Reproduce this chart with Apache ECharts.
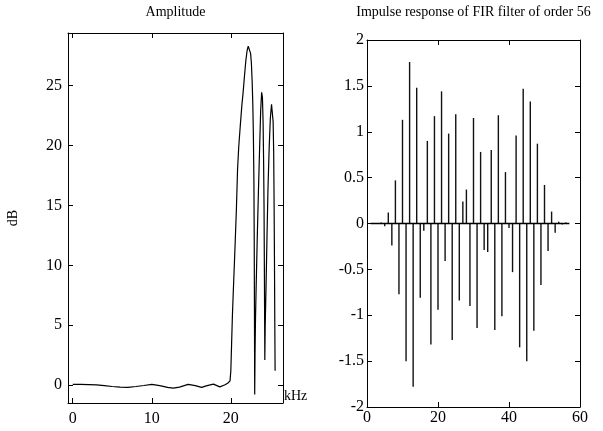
<!DOCTYPE html>
<html>
<head>
<meta charset="utf-8">
<script src="https://cdn.jsdelivr.net/npm/echarts@6/dist/echarts.min.js"></script>
<style>
html,body{margin:0;padding:0;background:#fff;}
#chart{width:603px;height:431px;}
</style>
</head>
<body>
<div id="chart"></div>
<script>
// Left panel: amplitude response (kHz, dB)
const ampFreq = [0, 1, 2, 3, 4, 5, 6, 7, 8, 9, 10, 11, 12, 12.7, 13.5, 14.6, 15.5, 16.3, 17, 17.8, 18.6, 19.2, 19.6, 19.9,
  20.0, 20.1, 20.2, 20.3, 20.4, 20.5, 20.6, 20.7, 20.85, 21.0, 21.2, 21.4, 21.55, 21.7, 21.9, 22.05, 22.2, 22.3, 22.4, 22.5, 22.6, 22.7, 22.78, 22.85, 22.92, 22.96, 22.99, 23.01, 23.02,
  23.06, 23.12, 23.2, 23.35, 23.5, 23.65, 23.78, 23.9, 24.0, 24.08, 24.15, 24.2, 24.25, 24.3,
  24.35, 24.45, 24.58, 24.7, 24.85, 25.0, 25.15, 25.25, 25.35, 25.42, 25.47, 25.52, 25.56, 25.6];
const ampDb = [0.05, 0.05, 0.04, 0.02, -0.05, -0.12, -0.17, -0.19, -0.12, -0.04, 0.05, -0.05, -0.2, -0.26, -0.18, 0.06, -0.05, -0.2, -0.05, 0.08, -0.15, 0.0, 0.15, 0.35,
  1.2, 3.5, 5.8, 7.6, 9.3, 11.0, 12.8, 14.6, 18.0, 19.9, 21.7, 23.4, 24.4, 25.6, 27.1, 27.9, 28.3, 28.4, 28.2, 27.7, 26.9, 25.3, 23.5, 21.0, 17.0, 12.0, 6.0, 1.0, -0.8,
  2.5, 5.5, 8.1, 12.5, 16.4, 20.0, 23.0, 24.45, 24.0, 22.0, 18.5, 15.0, 9.0, 2.1,
  5.0, 8.1, 12.5, 16.4, 19.8, 22.3, 23.45, 23.3, 22.0, 19.5, 15.5, 10.5, 5.5, 1.2];
const ampXTicks = [0, 10, 20];
const ampYTicks = [0, 5, 10, 15, 20, 25];

// Right panel: impulse response of FIR filter of order 56 (57 taps)
const impIndex = [1, 2, 3, 4, 5, 6, 7, 8, 9, 10, 11, 12, 13, 14, 15, 16, 17, 18, 19, 20,
  21, 22, 23, 24, 25, 26, 27, 28, 29, 30, 31, 32, 33, 34, 35, 36, 37, 38, 39, 40,
  41, 42, 43, 44, 45, 46, 47, 48, 49, 50, 51, 52, 53, 54, 55, 56, 57];
const impValue = [0, 0.005, -0.005, 0.01, -0.03, 0.12, -0.24, 0.47, -0.77, 1.13, -1.50, 1.76, -1.78, 1.48, -0.81, -0.08, 0.90, -1.32, 1.17, -0.94,
  1.44, -0.41, 0.98, -1.27, 1.19, -0.84, 0.24, 0.37, -0.90, 1.15, -1.14, 0.78, -0.29, -0.31, 0.80, -1.16, 1.18, -1.01, 0.56, -0.05,
  -0.53, 0.96, -1.35, 1.47, -1.50, 1.33, -1.17, 0.87, -0.67, 0.42, -0.30, 0.13, -0.10, 0.02, -0.01, 0.01, 0];
const impXTicks = [0, 20, 40, 60];
const impYTicks = [-2, -1.5, -1, -0.5, 0, 0.5, 1, 1.5, 2];

const FONT = 'Liberation Serif';
const INK = '#000';
const TICK_FS = 16;

function axisBase(extra) {
  return Object.assign({
    type: 'value',
    splitLine: { show: false },
    axisLine: { show: true, onZero: false, lineStyle: { color: INK, width: 1 } },
    axisTick: { show: true, inside: true, length: 5, lineStyle: { color: INK } },
    axisLabel: { show: false }
  }, extra);
}
function ticks(vals) {
  return { show: true, inside: true, length: 5, lineStyle: { color: INK }, customValues: vals };
}

const chart = echarts.init(document.getElementById('chart'), null, { renderer: 'canvas' });
chart.setOption({
  animation: false,
  backgroundColor: '#fff',
  grid: [
    { left: 68, top: 30, width: 215, height: 373 },
    { left: 367, top: 33, width: 213, height: 374 }
  ],
  xAxis: [
    axisBase({ gridIndex: 0, position: 'bottom', min: -0.6, max: 26.6,
      axisTick: ticks(ampXTicks),
      axisLabel: { show: true, customValues: ampXTicks, margin: 8, color: INK, fontFamily: FONT, fontSize: TICK_FS },
      name: 'kHz', nameLocation: 'end', nameGap: 1,
      nameTextStyle: { color: INK, fontFamily: FONT, fontSize: 14, align: 'left', verticalAlign: 'bottom' } }),
    axisBase({ gridIndex: 0, position: 'top', min: -0.6, max: 26.6,
      axisTick: ticks(ampXTicks),
      name: 'Amplitude', nameLocation: 'middle', nameGap: 14,
      nameTextStyle: { color: INK, fontFamily: FONT, fontSize: 14 } }),
    axisBase({ gridIndex: 1, position: 'bottom', min: 0, max: 60,
      axisTick: ticks(impXTicks),
      axisLabel: { show: true, customValues: impXTicks, margin: 3, color: INK, fontFamily: FONT, fontSize: TICK_FS } }),
    axisBase({ gridIndex: 1, position: 'top', min: 0, max: 60,
      axisTick: ticks(impXTicks),
      name: 'Impulse response of FIR filter of order 56', nameLocation: 'middle', nameGap: 21,
      nameTextStyle: { color: INK, fontFamily: FONT, fontSize: 14 } })
  ],
  yAxis: [
    axisBase({ gridIndex: 0, position: 'left', min: -1.5, max: 29.4,
      axisTick: ticks(ampYTicks),
      axisLabel: { show: true, customValues: ampYTicks, margin: 6, color: INK, fontFamily: FONT, fontSize: TICK_FS },
      name: 'dB', nameLocation: 'middle', nameGap: 48,
      nameTextStyle: { color: INK, fontFamily: FONT, fontSize: 14 } }),
    axisBase({ gridIndex: 0, position: 'right', min: -1.5, max: 29.4,
      axisTick: ticks(ampYTicks) }),
    axisBase({ gridIndex: 1, position: 'left', min: -2, max: 2,
      axisTick: ticks(impYTicks),
      axisLabel: { show: true, customValues: impYTicks, margin: 3, color: INK, fontFamily: FONT, fontSize: TICK_FS } }),
    axisBase({ gridIndex: 1, position: 'right', min: -2, max: 2,
      axisTick: ticks(impYTicks) })
  ],
  series: [
    {
      type: 'line', xAxisIndex: 0, yAxisIndex: 0,
      data: ampFreq.map((f, i) => [f, ampDb[i]]),
      showSymbol: false, symbol: 'none',
      lineStyle: { color: INK, width: 1.2 }
    },
    {
      type: 'bar', xAxisIndex: 2, yAxisIndex: 2,
      data: impIndex.map((n, i) => [n, impValue[i]]),
      barWidth: 1.4,
      itemStyle: { color: '#111' }
    },
    {
      type: 'line', xAxisIndex: 2, yAxisIndex: 2,
      data: impIndex.map(n => [n, 0]),
      showSymbol: false, symbol: 'none',
      lineStyle: { color: INK, width: 1.5 }
    }
  ]
});
</script>
</body>
</html>
